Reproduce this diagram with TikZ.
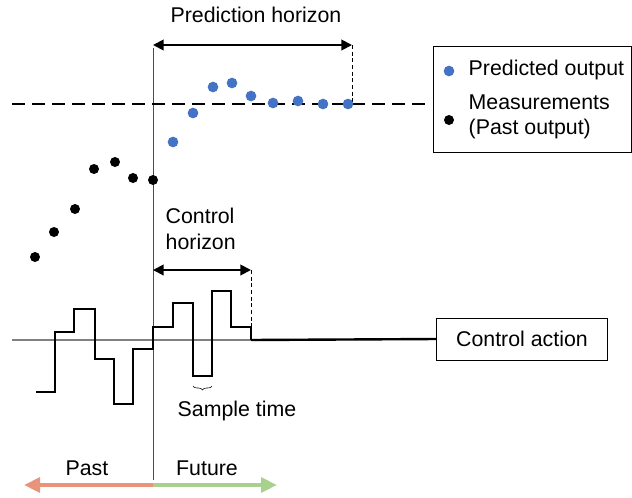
\documentclass[tikz,border=0pt]{standalone}
\usepackage{fontspec}
\setmainfont{Liberation Sans}
\usetikzlibrary{arrows.meta,decorations.pathreplacing}

\definecolor{dotblue}{HTML}{4472C4}
\definecolor{pastred}{HTML}{E8937A}
\definecolor{futgreen}{HTML}{A9D18E}

\begin{document}
\begin{tikzpicture}[x=0.75pt,y=-0.75pt,font=\fontsize{16}{19}\selectfont]
  \tikzstyle{bdot}=[circle,fill=dotblue,minimum size=8pt,inner sep=0pt]
  \tikzstyle{kdot}=[circle,fill=black,minimum size=7.5pt,inner sep=0pt]
  \tikzstyle{horizon}=[{Triangle[length=8pt,width=8pt]}-{Triangle[length=8pt,width=8pt]},line width=1.4pt]
  \tikzstyle{guide}=[densely dashed,line width=0.5pt]
  \tikzstyle{timearrow}=[line width=3pt,-{Triangle[length=12pt,width=11pt]}]
  \useasboundingbox (0,0) rectangle (632,497);

  % present time
  \coordinate (N_top) at (153,48);
  \coordinate (N_bot) at (153,480);
  \draw[line width=0.6pt,black!70] (N_top) -- (N_bot);

  % prediction horizon
  \node (PH) at (256,15) {Prediction horizon};
  \coordinate (PH_l) at (153,45);
  \coordinate (PH_r) at (352,45);
  \coordinate (PH_d) at (352,104);
  \draw[horizon] (PH_l) -- (PH_r);
  \draw[guide] (PH_r) -- (PH_d);

  % set point
  \coordinate (R_0) at (12,104);
  \coordinate (R_1) at (428,104);
  \draw[line width=1.8pt,dash pattern=on 10pt off 5pt] (R_0) -- (R_1);

  % measurements
  \node[kdot] (M_0) at (35,257) {};
  \node[kdot] (M_1) at (54,232) {};
  \node[kdot] (M_2) at (75,209) {};
  \node[kdot] (M_3) at (94,169) {};
  \node[kdot] (M_4) at (115,162) {};
  \node[kdot] (M_5) at (133,178) {};
  \node[kdot] (M_6) at (153,180) {};

  % predicted output
  \node[bdot] (P_1) at (173,142) {};
  \node[bdot] (P_2) at (193,113) {};
  \node[bdot] (P_3) at (213,87) {};
  \node[bdot] (P_4) at (232,83) {};
  \node[bdot] (P_5) at (251,96) {};
  \node[bdot] (P_6) at (273,103) {};
  \node[bdot] (P_7) at (298,101) {};
  \node[bdot] (P_8) at (323,104) {};
  \node[bdot] (P_9) at (348,104) {};

  % legend
  \node[draw,line width=0.6pt,minimum width=148.5pt,minimum height=79.5pt,anchor=north west] (L) at (433,46) {};
  \node[bdot] (L_1) at (449,71) {};
  \node[kdot] (L_2) at (449,120) {};
  \node[anchor=west] (L_t1) at (464,70) {Predicted output};
  \node[anchor=west,align=left] (L_t2) at (464,117) {Measurements\\(Past output)};

  % control horizon
  \node[anchor=west,align=left] (CH) at (161,229) {Control\\horizon};
  \coordinate (CH_l) at (153,270);
  \coordinate (CH_r) at (251,270);
  \coordinate (CH_d) at (251,327);
  \draw[horizon] (CH_l) -- (CH_r);
  \draw[guide] (CH_r) -- (CH_d);

  % control action
  \coordinate (U_0) at (12,340);
  \coordinate (U_e) at (251,340);
  \draw[line width=1pt,black!50] (U_0) -- (U_e);
  \coordinate (U_s) at (36,392);
  \draw[line width=1.5pt,line join=miter] (U_s) -- (55,392) -- (55,332) -- (74,332) -- (74,309)
    -- (95,309) -- (95,359) -- (114,359) -- (114,404) -- (133,404) -- (133,349) -- (153,349)
    -- (153,327) -- (173,327) -- (173,303) -- (193,303) -- (193,376) -- (212,376) -- (212,291)
    -- (231,291) -- (231,327) -- (251,327) -- (U_e);
  \node[draw,line width=0.6pt,minimum width=128pt,minimum height=31.5pt] (CA) at (522,339) {Control action};
  \draw[line width=1.8pt] (U_e) -- (CA.west);

  % sample time
  \coordinate (S_r) at (212,386);
  \coordinate (S_l) at (193,386);
  \draw[decorate,decoration={brace,amplitude=3pt},line width=0.4pt] (S_r) -- (S_l);
  \node (ST) at (237,411) {Sample time};

  % past and future
  \coordinate (T_0) at (153,485);
  \coordinate (T_p) at (24,485);
  \coordinate (T_f) at (277,485);
  \draw[timearrow,pastred] (T_0) -- (T_p);
  \draw[timearrow,futgreen] (T_0) -- (T_f);
  \node (Past) at (87,468) {Past};
  \node (Fut) at (207,468) {Future};
\end{tikzpicture}
\end{document}
